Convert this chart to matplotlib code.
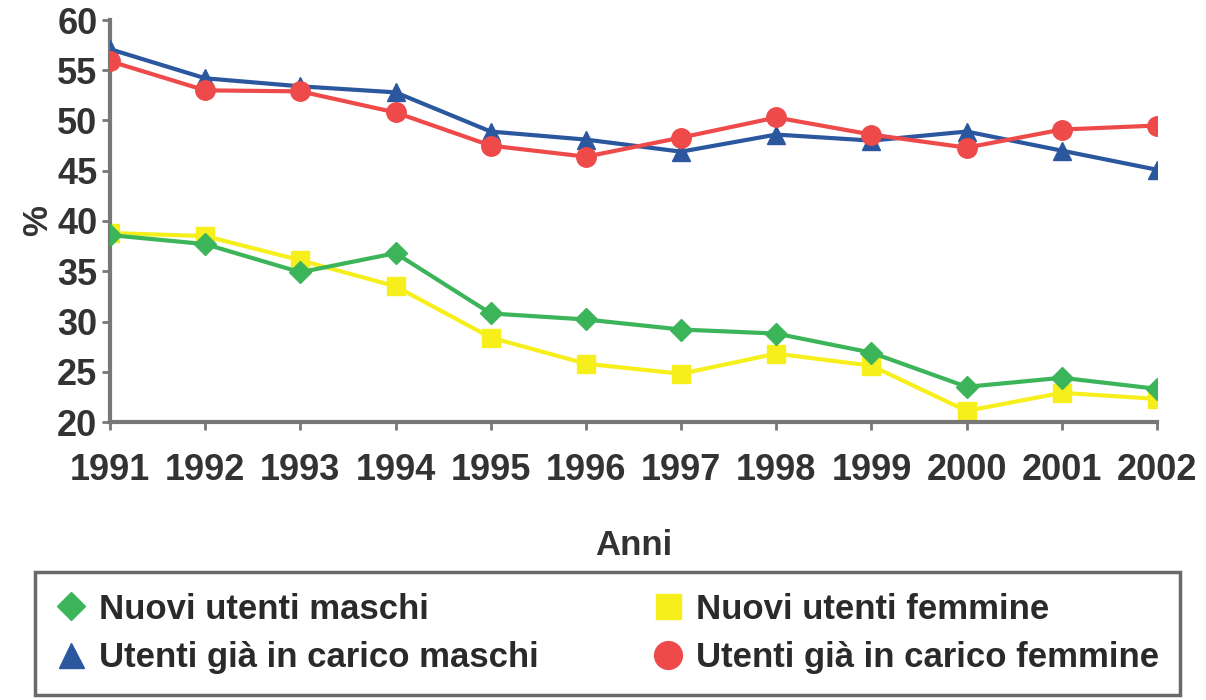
import matplotlib.pyplot as plt
from matplotlib.lines import Line2D

plt.rcParams["font.family"] = ["Liberation Sans", "DejaVu Sans"]

anni = [1991, 1992, 1993, 1994, 1995, 1996, 1997, 1998, 1999, 2000, 2001, 2002]

nuovi_maschi = [38.6, 37.7, 34.9, 36.8, 30.8, 30.2, 29.2, 28.8, 26.9, 23.5, 24.4, 23.3]
nuovi_femmine = [38.8, 38.5, 36.1, 33.5, 28.4, 25.8, 24.8, 26.8, 25.6, 21.1, 22.9, 22.3]
carico_maschi = [57.1, 54.2, 53.4, 52.8, 48.9, 48.1, 46.9, 48.6, 48.0, 48.9, 47.0, 45.1]
carico_femmine = [55.9, 53.0, 52.9, 50.8, 47.5, 46.4, 48.3, 50.3, 48.6, 47.3, 49.1, 49.5]

etichette = ["Nuovi utenti maschi", "Nuovi utenti femmine",
             "Utenti già in carico maschi", "Utenti già in carico femmine"]

verde = "#3cb55a"
giallo = "#f7ef1c"
blu = "#2b579f"
rosso = "#ee4a4a"

fig = plt.figure(figsize=(12.06, 7), dpi=100)
ax = fig.add_axes([110 / 1206, 1 - 422 / 700, (1157 - 110) / 1206, (422 - 20) / 700])

ax.plot(anni, carico_maschi, '-', color=blu, lw=3, marker='^', ms=13, zorder=3)
ax.plot(anni, carico_femmine, '-', color=rosso, lw=3, marker='o', ms=14, zorder=3)
ax.plot(anni, nuovi_maschi, '-', color=verde, lw=3, marker='D', ms=11, zorder=3)
ax.plot(anni, nuovi_femmine, '-', color=giallo, lw=3, marker='s', ms=13, zorder=2)

ax.set_xlim(1991, 2002)
ax.set_ylim(20, 60)
ax.set_xticks(anni)
ax.set_yticks(range(20, 61, 5))

for s in ['top', 'right']:
    ax.spines[s].set_visible(False)
for s in ['left', 'bottom']:
    ax.spines[s].set_color('#777777')
    ax.spines[s].set_linewidth(3)
ax.tick_params(colors='#777777', width=2, length=6, labelcolor='#333333')
for lab in ax.get_xticklabels() + ax.get_yticklabels():
    lab.set_fontsize(26)
    lab.set_fontweight('bold')
ax.tick_params(axis='x', pad=16)
ax.tick_params(axis='y', pad=3)
for t in ax.xaxis.get_major_ticks() + ax.yaxis.get_major_ticks():
    t.tick1line.set_clip_on(False)

ax.set_xlabel("Anni", fontsize=25, fontweight='bold', color='#333333', labelpad=30)
ax.set_ylabel("%", fontsize=25, fontweight='bold', color='#333333', labelpad=2)

# ordine per colonne: sinistra maschi, destra femmine
maniglie = [
    Line2D([], [], ls='none', marker='D', color=verde, ms=14),
    Line2D([], [], ls='none', marker='^', color=blu, ms=18),
    Line2D([], [], ls='none', marker='s', color=giallo, ms=18),
    Line2D([], [], ls='none', marker='o', color=rosso, ms=20),
]
ordine = [etichette[0], etichette[2], etichette[1], etichette[3]]
leg = fig.legend(maniglie, ordine, ncol=2, loc='lower left',
                 bbox_to_anchor=(35 / 1206, 5 / 700, (1180 - 35) / 1206, 117 / 700),
                 mode='expand', fancybox=False, frameon=True, borderaxespad=0,
                 prop={'size': 25, 'weight': 'bold'},
                 handlelength=0.9, handletextpad=0.35, columnspacing=2.0,
                 labelspacing=0.45, borderpad=0.6)
leg.get_frame().set_edgecolor('#444444')
leg.get_frame().set_linewidth(2.5)
for t in leg.get_texts():
    t.set_color('#2a2a2a')

fig.savefig("out.png", dpi=100)
